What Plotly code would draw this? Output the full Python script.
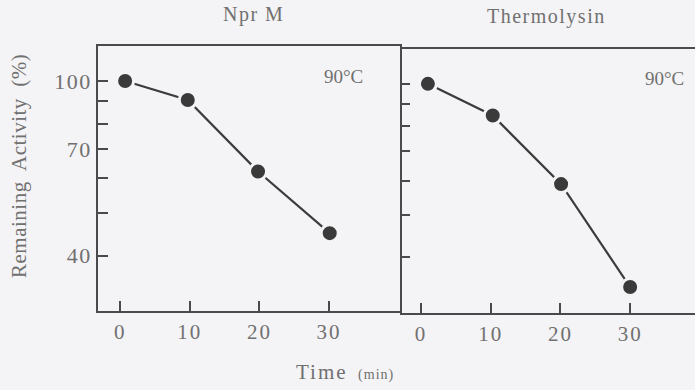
import plotly.graph_objects as go
import math

# ---- data ----
npr_time = [0.7, 9.7, 19.8, 30.1]
npr_activity = [100, 90.5, 62.2, 45.0]
thermo_time = [1.0, 10.3, 20.1, 30.0]
thermo_activity = [100, 84.6, 58.9, 34.2]
panel_titles = ["Npr M", "Thermolysin"]
temp_label = "90°C"
x_ticks = [0, 10, 20, 30]
y_tickvals = [40, 50, 60, 70, 80, 90, 100]
y_ticktext = ["40", "", "", "70", "", "", "100"]

W, H = 695, 390
BG = "#f4f3f5"
INK = "#4a4a4a"
TXT = "#707070"
FONT = "Liberation Serif"


def spaced(s, sp=1):
    return f"<span style='letter-spacing:{sp}px'>{s}</span>" if s else ""


fig = go.Figure()

for i, (t, a) in enumerate([(npr_time, npr_activity), (thermo_time, thermo_activity)]):
    fig.add_trace(go.Scatter(
        x=t, y=a, mode="lines+markers",
        xaxis="x" if i == 0 else "x2", yaxis="y" if i == 0 else "y2",
        line=dict(color="#3c3c3c", width=2.2),
        marker=dict(size=17, color="#3a3a3a", line=dict(color=BG, width=3)),
        showlegend=False, cliponaxis=False,
    ))


def px(x):
    return x / W


def py(y):
    return 1 - y / H


yrange = [math.log10(29.9), math.log10(120.2)]
common_x = dict(range=[-3.2, 40.2], tickvals=x_ticks, ticktext=[spaced(str(v), 2) for v in x_ticks],
                ticks="inside", ticklen=10,
                tickwidth=1.5, tickcolor=INK, showline=True, linecolor=INK, linewidth=1.6,
                showgrid=False, zeroline=False, ticklabelstandoff=1, automargin=False,
                tickfont=dict(family=FONT, size=21, color=TXT))
common_y = dict(type="log", range=yrange, tickvals=y_tickvals, ticks="inside", ticklen=10,
                tickwidth=1.5, tickcolor=INK, showline=True, linecolor=INK, linewidth=1.6,
                showgrid=False, zeroline=False, automargin=False,
                tickfont=dict(family=FONT, size=22, color=TXT))

fig.update_layout(
    width=W, height=H, margin=dict(l=0, r=0, t=0, b=0),
    paper_bgcolor=BG, plot_bgcolor=BG,
    xaxis=dict(common_x, domain=[px(98), px(400)], anchor="y", mirror=True),
    yaxis=dict(common_y, domain=[py(311), py(46)], anchor="x", mirror=True,
               ticktext=[spaced(t, 1.5) for t in y_ticktext]),
    xaxis2=dict(common_x, range=[-3.0, 39.3], domain=[px(400), 1.0], anchor="y2", mirror=True),
    yaxis2=dict(common_y, domain=[py(312.5), py(49)], anchor="x2", mirror=False,
                showline=False, showticklabels=False),
)

ann = [
    dict(x=px(253), y=py(15), text=spaced(panel_titles[0], 1.5), font=dict(size=20)),
    dict(x=px(546), y=py(17), text=spaced(panel_titles[1], 1.5), font=dict(size=20)),
    dict(x=px(343), y=py(77), text=temp_label, font=dict(size=19)),
    dict(x=px(664), y=py(79), text=temp_label, font=dict(size=19)),
    dict(x=px(345), y=py(372),
         text=spaced("Time", 2) + "  <span style='font-size:14px;letter-spacing:1px'>(min)</span>",
         font=dict(size=21)),
    dict(x=px(19), y=py(166), text=spaced("Remaining  Activity  (%)", 0.5), textangle=-90,
         font=dict(size=21)),
]
for a in ann:
    a.update(xref="paper", yref="paper", showarrow=False, xanchor="center", yanchor="middle")
    a["font"].update(family=FONT, color=TXT)
    fig.add_annotation(**a)

fig.write_html("out.html")
